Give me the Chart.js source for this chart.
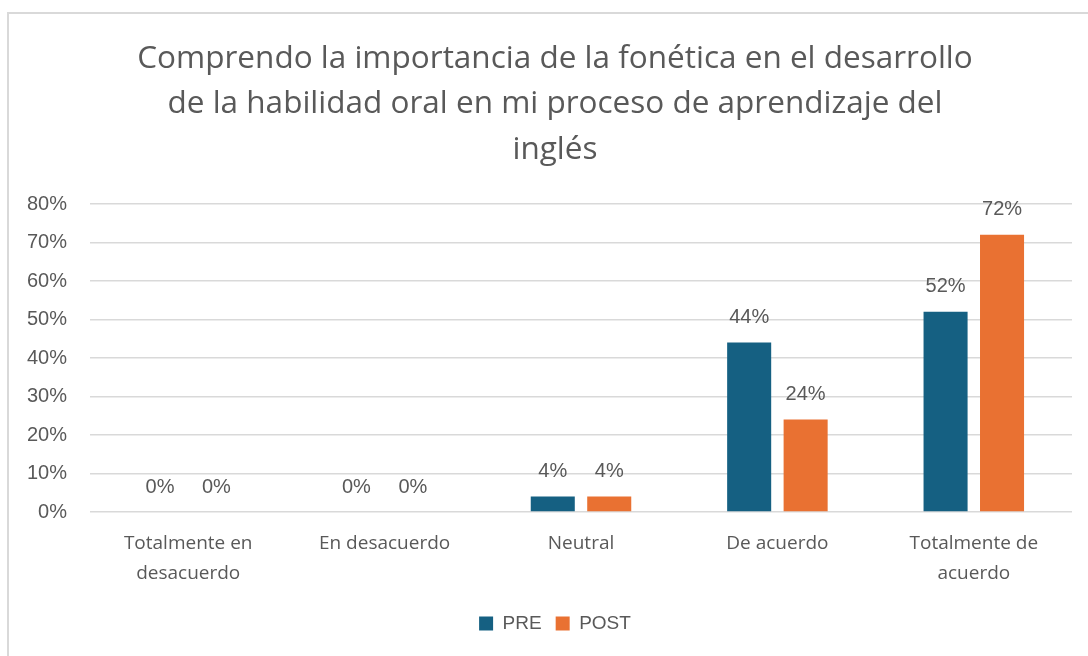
<!DOCTYPE html>
<html>
<head>
<meta charset="utf-8">
<script src="https://cdn.jsdelivr.net/npm/chart.js@4.4.0/dist/chart.umd.min.js"></script>
<style>
  html, body { margin: 0; padding: 0; background: #fff; overflow: hidden; }
  .marco { position: absolute; left: 7px; top: 12px; width: 1092px; height: 700px; border: 2px solid #d9d9d9; }
  #grafico { position: absolute; left: 0; top: 0; }
</style>
</head>
<body>
<div class="marco">
  <canvas id="grafico" width="1092" height="642"></canvas>
</div>
<script>
const titulo = [
  'Comprendo la importancia de la fonética en el desarrollo',
  'de la habilidad oral en mi proceso de aprendizaje del',
  'inglés'
];
const categorias = [
  ['Totalmente en', 'desacuerdo'],
  'En desacuerdo',
  'Neutral',
  'De acuerdo',
  ['Totalmente de', 'acuerdo']
];
const valoresPre = [0, 0, 0.04, 0.44, 0.52];
const valoresPost = [0, 0, 0.04, 0.24, 0.72];
const ejeMax = 0.8;
const ejePaso = 0.1;

const gris = '#595959';

const porcentaje = v => Math.round(v * 100) + '%';

// etiquetas de datos encima de cada barra
const etiquetas = {
  id: 'etiquetas',
  afterDatasetsDraw(chart){
    const ctx = chart.ctx;
    ctx.save();
    ctx.font = '20px "Liberation Sans", Arial, sans-serif';
    ctx.fillStyle = gris;
    ctx.textAlign = 'center';
    ctx.textBaseline = 'middle';
    chart.data.datasets.forEach((ds, i) => {
      chart.getDatasetMeta(i).data.forEach((barra, j) => {
        ctx.fillText(porcentaje(ds.data[j]), barra.x, barra.y - 25);
      });
    });
    ctx.restore();
  }
};

new Chart(document.getElementById('grafico').getContext('2d'), {
  type: 'bar',
  data: {
    labels: categorias,
    datasets: [
      { label: 'PRE', data: valoresPre, backgroundColor: '#156082' },
      { label: 'POST', data: valoresPost, backgroundColor: '#E97132' }
    ]
  },
  options: {
    responsive: false,
    animation: false,
    categoryPercentage: 0.575,
    barPercentage: 0.78,
    layout: { padding: { left: 0, right: 0, top: 0, bottom: 13 } },
    plugins: {
      tooltip: { enabled: false },
      title: {
        display: true,
        text: titulo,
        color: gris,
        font: { family: '"Open Sans", sans-serif', size: 31.5, weight: 'normal', lineHeight: 1.45 },
        padding: { top: 22, bottom: 31 }
      },
      legend: {
        position: 'bottom',
        labels: {
          color: gris,
          boxWidth: 14,
          boxHeight: 14,
          padding: 14,
          font: { family: '"Liberation Sans", Arial, sans-serif', size: 19 }
        }
      }
    },
    scales: {
      x: {
        grid: { display: false },
        border: { display: false },
        ticks: {
          color: gris,
          padding: 8,
          maxRotation: 0,
          font: { family: '"Open Sans", sans-serif', size: 19, lineHeight: 1.6 }
        },
        afterFit: s => { s.height = 88; }
      },
      y: {
        min: 0,
        max: ejeMax,
        grid: { color: '#d9d9d9', lineWidth: 1.5, drawTicks: false },
        border: { display: false },
        ticks: {
          stepSize: ejePaso,
          color: gris,
          padding: 23,
          font: { family: '"Liberation Sans", Arial, sans-serif', size: 20 },
          callback: v => porcentaje(v)
        },
        afterFit: s => { s.width = 81; }
      },
      margen: {
        position: 'right',
        grid: { display: false },
        border: { display: false },
        ticks: { display: false },
        afterFit: s => { s.width = 29; }
      }
    }
  },
  plugins: [etiquetas]
});
</script>
</body>
</html>
